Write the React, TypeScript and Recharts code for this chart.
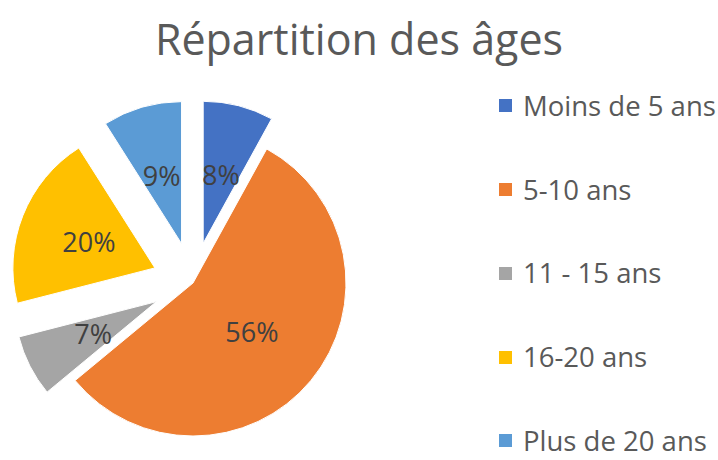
import React from 'react';
import { PieChart, Pie, Cell, Legend, Sector } from 'recharts';

const title = 'Répartition des âges';
const categories = ['Moins de 5 ans', '5-10 ans', '11 - 15 ans', '16-20 ans', 'Plus de 20 ans'];
const shares = [8, 56, 7, 20, 9];
const explodedFlags = [true, false, true, true, true];
const COLORS = ['#4472C4', '#ED7D31', '#A5A5A5', '#FFC000', '#5B9BD5'];

const data = categories.map((name, i) => ({ name, value: shares[i] }));

const RAD = Math.PI / 180;
const CX = 193;
const CY = 283;
const R = 153;
const EXPLODE = 41;
const R_EXPL_RATIO = 142 / 153;
const FONT = '"Open Sans", "DejaVu Sans", sans-serif';

const idxOf = (props: any) => {
  const n = props.name ?? props.payload?.name;
  return categories.indexOf(n);
};

const sliceGeom = (props: any) => {
  const i = idxOf(props);
  const exp = explodedFlags[i];
  const d = exp ? EXPLODE : 0;
  const mid = props.midAngle;
  return {
    cx: props.cx + d * Math.cos(-mid * RAD),
    cy: props.cy + d * Math.sin(-mid * RAD),
    r: exp ? props.outerRadius * R_EXPL_RATIO : props.outerRadius,
  };
};

const renderSlice = (props: any) => {
  const g = sliceGeom(props);
  return (
    <Sector
      cx={g.cx}
      cy={g.cy}
      innerRadius={0}
      outerRadius={g.r}
      startAngle={props.startAngle}
      endAngle={props.endAngle}
      fill={props.fill}
      stroke="#ffffff"
      strokeWidth={1}
    />
  );
};

const renderLabel = (props: any) => {
  const g = sliceGeom(props);
  const mid = props.midAngle;
  const lr = g.r * 0.5;
  const x = g.cx + lr * Math.cos(-mid * RAD);
  const y = g.cy + lr * Math.sin(-mid * RAD);
  return (
    <text
      x={x}
      y={y}
      textAnchor="middle"
      dominantBaseline="central"
      fill="#404040"
      fontSize={27}
      fontFamily={FONT}
    >
      {`${Math.round(props.percent * 100)}%`}
    </text>
  );
};

const renderLegend = () => (
  <div style={{ fontFamily: FONT }}>
    {categories.map((c, i) => (
      <div key={c} style={{ height: 83.75, display: 'flex', alignItems: 'center' }}>
        <span style={{ display: 'inline-block', width: 13, height: 13, background: COLORS[i], marginRight: 11, flex: 'none' }} />
        <span style={{ fontSize: 27.5, lineHeight: '32px', color: '#595959', whiteSpace: 'nowrap' }}>{c}</span>
      </div>
    ))}
  </div>
);

export default function App() {
  return (
    <div style={{ position: 'absolute', left: 0, top: 0, width: 718, height: 460, background: '#ffffff', overflow: 'hidden' }}>
      <div
        style={{
          position: 'absolute',
          left: 0,
          top: 17,
          width: 718,
          textAlign: 'center',
          fontFamily: FONT,
          fontSize: 43,
          lineHeight: '43px',
          color: '#595959',
        }}
      >
        {title}
      </div>
      <PieChart width={718} height={460} margin={{ top: 0, right: 0, bottom: 0, left: 0 }}>
        <Pie
          data={data}
          dataKey="value"
          nameKey="name"
          cx={CX}
          cy={CY}
          outerRadius={R}
          startAngle={90}
          endAngle={-270}
          isAnimationActive={false}
          labelLine={false}
          label={renderLabel}
          shape={renderSlice}
          activeShape={renderSlice}
          inactiveShape={renderSlice}
          stroke="#ffffff"
        >
          {data.map((d, i) => (
            <Cell key={d.name} fill={COLORS[i]} />
          ))}
        </Pie>
        <Legend
          content={renderLegend}
          wrapperStyle={{ position: 'absolute', left: 499, top: 64, width: 219 }}
        />
      </PieChart>
    </div>
  );
}
